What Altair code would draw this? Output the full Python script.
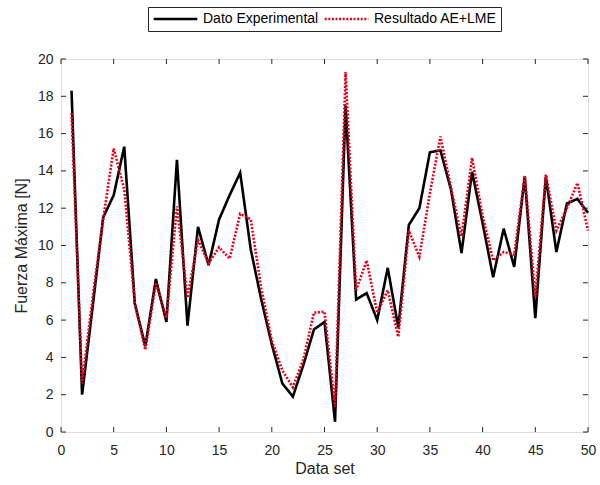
import altair as alt
import pandas as pd

x_idx = list(range(1, 51))
dato_exp = [18.3, 2.0, 6.7, 11.5, 12.7, 15.3, 6.9, 4.6, 8.2, 5.9,
            14.6, 5.7, 11.0, 8.95, 11.4, 12.7, 13.9, 9.8, 7.1, 4.7,
            2.6, 1.9, 3.6, 5.5, 5.9, 0.55, 17.5, 7.1, 7.45, 6.0,
            8.8, 5.6, 11.1, 12.0, 15.0, 15.1, 13.0, 9.6, 13.95, 11.2,
            8.3, 10.9, 8.85, 13.7, 6.1, 13.7, 9.65, 12.25, 12.5, 11.75]
resultado = [17.1, 2.6, 7.2, 11.4, 15.2, 13.0, 6.9, 4.4, 8.0, 6.1,
             12.1, 7.2, 10.3, 9.05, 9.9, 9.3, 11.7, 11.4, 7.7, 4.9,
             3.3, 2.4, 3.9, 6.4, 6.45, 1.35, 19.3, 7.6, 9.2, 6.4,
             7.6, 5.1, 10.8, 9.4, 12.8, 15.85, 13.1, 10.5, 14.7, 11.6,
             9.2, 9.65, 9.5, 13.75, 7.25, 13.8, 10.8, 12.0, 13.35, 10.8]
series_names = ["Dato Experimental", "Resultado AE+LME"]
x_ticks = [0, 5, 10, 15, 20, 25, 30, 35, 40, 45, 50]
y_ticks = [0, 2, 4, 6, 8, 10, 12, 14, 16, 18, 20]

df = pd.DataFrame({
    "x": x_idx * 2,
    "y": dato_exp + resultado,
    "serie": [series_names[0]] * 50 + [series_names[1]] * 50,
})
W, H = 527, 373
axis_col = "#262626"
FONT = "Liberation Sans"

color_scale = alt.Scale(domain=series_names, range=["#000000", "#e3001b"])
dash_scale = alt.Scale(domain=series_names, range=[[1, 0], [2, 1.6]])
legend = alt.Legend(title=None, orient="none", legendX=87, legendY=-52,
                    direction="horizontal", strokeColor=axis_col, padding=4,
                    symbolType="stroke", symbolSize=1900, symbolStrokeWidth=2.5,
                    labelFontSize=14, labelFont=FONT, labelColor="#000",
                    clipHeight=16,
                    columnPadding=4, labelOffset=4, fillColor="white")

xs = alt.Scale(domain=[0, 50], nice=False)
ys = alt.Scale(domain=[0, 20], nice=False)

ax_x = alt.Axis(values=x_ticks, title="Data set", tickSize=0,
                labelPadding=11, grid=False, domain=False,
                labelFontSize=14, titleFontSize=16,
                labelOverlap=False, labelFlush=False,
                titleFontWeight="normal", labelColor=axis_col,
                titleColor=axis_col, labelFont=FONT,
                titleFont=FONT, titlePadding=3)
ax_y = alt.Axis(values=y_ticks, title="Fuerza Máxima [N]", tickSize=0,
                labelPadding=8, grid=False, domain=False,
                labelFontSize=14, titleFontSize=16,
                labelOverlap=False, labelFlush=False,
                titleFontWeight="normal", labelColor=axis_col,
                titleColor=axis_col, labelFont=FONT,
                titleFont=FONT, titlePadding=8)

def line(name):
    return alt.Chart(df).transform_filter(alt.datum.serie == name).mark_line(strokeWidth=2.6).encode(
        x=alt.X("x:Q", scale=xs, axis=ax_x),
        y=alt.Y("y:Q", scale=ys, axis=ax_y),
        color=alt.Color("serie:N", scale=color_scale, legend=legend),
        strokeDash=alt.StrokeDash("serie:N", scale=dash_scale, legend=legend),
    )

xt = pd.DataFrame({"t": x_ticks})
yt = pd.DataFrame({"t": y_ticks})
tick_col = axis_col
xb = alt.Chart(xt).mark_rule(color=tick_col, strokeWidth=1).encode(
    x=alt.X("t:Q", scale=xs, axis=ax_x), y=alt.value(H), y2=alt.value(H - 5))
xtop = alt.Chart(xt).mark_rule(color=tick_col, strokeWidth=1).encode(
    x=alt.X("t:Q", scale=xs, axis=ax_x), y=alt.value(0), y2=alt.value(5))
yl = alt.Chart(yt).mark_rule(color=tick_col, strokeWidth=1).encode(
    y=alt.Y("t:Q", scale=ys, axis=ax_y), x=alt.value(0), x2=alt.value(5))
yr = alt.Chart(yt).mark_rule(color=tick_col, strokeWidth=1).encode(
    y=alt.Y("t:Q", scale=ys, axis=ax_y), x=alt.value(W), x2=alt.value(W - 5))

chart = alt.layer(line(series_names[0]), line(series_names[1]), xb, xtop, yl, yr).properties(
    width=W, height=H,
    autosize=alt.AutoSizeParams(type="none"),
    padding={"left": 61, "top": 59, "right": 12, "bottom": 53},
).configure_view(stroke=axis_col, strokeWidth=1).configure(background="white")

chart.save("out.html", embed_options={"renderer": "svg", "actions": False})
